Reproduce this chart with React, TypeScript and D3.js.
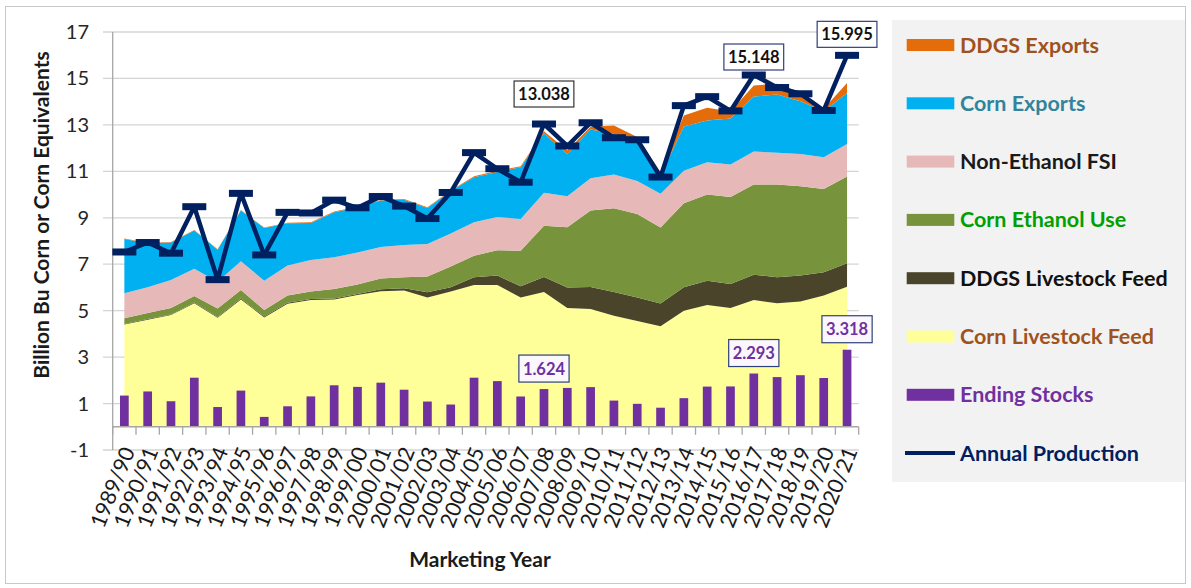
import React, { useEffect, useRef } from "react";
import * as d3 from "d3";

// marketing years on the x axis
const years = [
  "1989/90", "1990/91", "1991/92", "1992/93", "1993/94", "1994/95", "1995/96", "1996/97",
  "1997/98", "1998/99", "1999/00", "2000/01", "2001/02", "2002/03", "2003/04", "2004/05",
  "2005/06", "2006/07", "2007/08", "2008/09", "2009/10", "2010/11", "2011/12", "2012/13",
  "2013/14", "2014/15", "2015/16", "2016/17", "2017/18", "2018/19", "2019/20", "2020/21",
];

// stacked uses, billion bu (bottom to top)
const cornLivestockFeed = [4.40, 4.61, 4.81, 5.32, 4.70, 5.48, 4.71, 5.30, 5.46, 5.48, 5.67, 5.84, 5.87, 5.57, 5.83, 6.10, 6.10, 5.57, 5.80, 5.11, 5.07, 4.78, 4.55, 4.33, 5.00, 5.24, 5.12, 5.46, 5.32, 5.40, 5.65, 6.03];
const ddgsLivestockFeed = [0.03, 0.03, 0.03, 0.03, 0.03, 0.04, 0.04, 0.04, 0.04, 0.04, 0.05, 0.08, 0.09, 0.22, 0.18, 0.34, 0.41, 0.48, 0.65, 0.89, 0.95, 1.02, 1.02, 0.98, 1.01, 1.05, 1.03, 1.09, 1.12, 1.11, 1.00, 1.01];
const cornEthanolUse = [0.24, 0.26, 0.27, 0.28, 0.36, 0.37, 0.28, 0.31, 0.33, 0.41, 0.41, 0.47, 0.48, 0.68, 0.89, 0.93, 1.09, 1.53, 2.21, 2.59, 3.29, 3.61, 3.59, 3.27, 3.62, 3.71, 3.74, 3.88, 3.99, 3.85, 3.59, 3.74];
const nonEthanolFsi = [1.08, 1.11, 1.21, 1.17, 1.16, 1.24, 1.26, 1.29, 1.35, 1.37, 1.37, 1.35, 1.39, 1.40, 1.42, 1.44, 1.43, 1.37, 1.42, 1.34, 1.39, 1.45, 1.42, 1.45, 1.40, 1.39, 1.40, 1.42, 1.37, 1.39, 1.37, 1.40];
const cornExports = [2.34, 1.89, 1.62, 1.65, 1.37, 2.18, 2.27, 1.82, 1.60, 1.94, 1.95, 2.00, 1.95, 1.55, 1.83, 1.94, 1.94, 2.23, 2.55, 1.82, 2.10, 1.75, 1.78, 0.79, 1.90, 1.80, 1.99, 2.37, 2.51, 2.27, 1.98, 2.19];
const ddgsExports = [0.02, 0.02, 0.02, 0.02, 0.02, 0.02, 0.02, 0.03, 0.03, 0.03, 0.03, 0.03, 0.03, 0.03, 0.03, 0.04, 0.05, 0.04, 0.10, 0.15, 0.12, 0.36, 0.12, 0.14, 0.47, 0.55, 0.30, 0.48, 0.46, 0.39, 0.10, 0.43];

const endingStocks = [1.344, 1.521, 1.100, 2.113, 0.850, 1.558, 0.426, 0.883, 1.308, 1.787, 1.718, 1.899, 1.596, 1.087, 0.958, 2.114, 1.967, 1.304, 1.624, 1.673, 1.708, 1.128, 0.989, 0.821, 1.232, 1.731, 1.737, 2.293, 2.140, 2.221, 2.100, 3.318];
const annualProduction = [7.527, 7.934, 7.475, 9.477, 6.336, 10.051, 7.400, 9.233, 9.207, 9.759, 9.431, 9.915, 9.503, 8.967, 10.089, 11.806, 11.112, 10.531, 13.038, 12.092, 13.092, 12.447, 12.360, 10.755, 13.829, 14.216, 13.602, 15.148, 14.609, 14.340, 13.620, 15.995];

const yTicks = [-1, 1, 3, 5, 7, 9, 11, 13, 15, 17];

// which years get a value label
const productionLabelYears = ["2007/08", "2016/17", "2020/21"];
const stocksLabelYears = ["2007/08", "2016/17", "2020/21"];

const FONT = "Lato, 'Open Sans', sans-serif";

export default function App() {
  const ref = useRef<SVGSVGElement>(null);

  useEffect(() => {
    const svg = d3.select(ref.current);
    svg.selectAll("*").remove();

    const x = d3.scaleBand().domain(years).range([112.7, 858.7]);
    const y = d3.scaleLinear().domain([-1, 17]).range([450, 32]);
    const cx = (d: string) => (x(d) as number) + x.bandwidth() / 2;

    // frame
    svg.append("rect").attr("x", 5.5).attr("y", 6.5).attr("width", 1180).attr("height", 577)
      .attr("fill", "#fff").attr("stroke", "#c8c8c8");

    // gridlines
    svg.append("g").selectAll("line").data(yTicks).enter().append("line")
      .attr("x1", 103).attr("x2", 858.7)
      .attr("y1", d => y(d)).attr("y2", d => y(d))
      .attr("stroke", "#d4d4d4").attr("stroke-width", 1.3);

    const rows = years.map((yr, i) => ({
      year: yr,
      cornFeed: cornLivestockFeed[i],
      ddgsFeed: ddgsLivestockFeed[i],
      ethanol: cornEthanolUse[i],
      fsi: nonEthanolFsi[i],
      exports: cornExports[i],
      ddgsExp: ddgsExports[i],
    }));
    const keys = ["cornFeed", "ddgsFeed", "ethanol", "fsi", "exports", "ddgsExp"];
    const colors: Record<string, string> = {
      cornFeed: "#ffff99", ddgsFeed: "#4a452a", ethanol: "#77933c",
      fsi: "#e6b9b8", exports: "#00b0f0", ddgsExp: "#e46c0a",
    };
    const series = d3.stack<any>().keys(keys)(rows);
    const area = d3.area<any>()
      .x(d => cx(d.data.year))
      .y0(d => y(d[0]))
      .y1(d => y(d[1]));
    svg.append("g").selectAll("path").data(series).enter().append("path")
      .attr("d", d => area(d as any))
      .attr("fill", d => colors[d.key]);

    // ending stocks bars
    const barW = 8.7;
    svg.append("g").selectAll("rect").data(years).enter().append("rect")
      .attr("x", d => cx(d) - barW / 2)
      .attr("width", barW)
      .attr("y", (d, i) => y(endingStocks[i]))
      .attr("height", (d, i) => y(0) - y(endingStocks[i]))
      .attr("fill", "#7030a0");

    // axes
    svg.append("line").attr("x1", 112.7).attr("x2", 112.7).attr("y1", y(17)).attr("y2", y(-1))
      .attr("stroke", "#a6a6a6").attr("stroke-width", 1.3);
    svg.append("line").attr("x1", 112.7).attr("x2", 858.7).attr("y1", y(0)).attr("y2", y(0))
      .attr("stroke", "#a6a6a6").attr("stroke-width", 1.6);
    const tickXs = years.map(d => x(d) as number).concat([858.7]);
    svg.append("g").selectAll("line").data(tickXs).enter().append("line")
      .attr("x1", d => d).attr("x2", d => d)
      .attr("y1", y(0)).attr("y2", y(0) + 8)
      .attr("stroke", "#a6a6a6").attr("stroke-width", 1.3);

    svg.append("g").selectAll("text").data(yTicks).enter().append("text")
      .attr("x", 89).attr("y", d => y(d)).attr("dy", "0.35em")
      .attr("text-anchor", "end")
      .style("font-family", FONT).style("font-size", "20px").attr("fill", "#262626")
      .text(d => d);

    svg.append("g").selectAll("text").data(years).enter().append("text")
      .attr("transform", d => `translate(${cx(d) + 4},${448}) rotate(-68)`)
      .attr("dy", "0.35em")
      .attr("text-anchor", "end")
      .style("font-family", FONT).style("font-size", "21.5px").attr("fill", "#1a1a1a")
      .text(d => d);

    svg.append("text")
      .attr("transform", `translate(49,215) rotate(-90)`)
      .attr("text-anchor", "middle")
      .style("font-family", FONT).style("font-size", "21px").style("font-weight", "bold")
      .attr("fill", "#1a1a1a")
      .text("Billion Bu Corn or Corn Equivalents");

    svg.append("text")
      .attr("x", 480).attr("y", 567)
      .attr("text-anchor", "middle")
      .style("font-family", FONT).style("font-size", "21px").style("font-weight", "bold")
      .attr("fill", "#1a1a1a")
      .text("Marketing Year");

    // annual production line
    const line = d3.line<number>()
      .x((d, i) => cx(years[i]))
      .y(d => y(d));
    svg.append("path").attr("d", line(annualProduction) as string)
      .attr("fill", "none").attr("stroke", "#002060").attr("stroke-width", 4.5)
      .attr("stroke-linejoin", "round");
    svg.append("g").selectAll("rect").data(annualProduction).enter().append("rect")
      .attr("x", (d, i) => cx(years[i]) - 12).attr("width", 24)
      .attr("y", d => y(d) - 3.5).attr("height", 7)
      .attr("fill", "#002060");

    // value labels
    const fmt = d3.format(".3f");
    const prodGap = [17, 5, 8];
    productionLabelYears.forEach((yr, k) => {
      const i = years.indexOf(yr);
      const v = annualProduction[i];
      const bottom = y(v) - prodGap[k];
      const g = svg.append("g");
      const r = g.append("rect").attr("fill", "#fff").attr("stroke", k === 0 ? "#333" : "#2f3f7a").attr("stroke-width", 1.2);
      const t = g.append("text").attr("x", cx(yr)).attr("y", bottom - 13).attr("dy", "0.36em")
        .attr("text-anchor", "middle")
        .style("font-family", FONT).style("font-size", "16.5px").style("font-weight", "bold")
        .attr("fill", "#111").text(fmt(v));
      const w = (t.node() as SVGTextElement).getComputedTextLength() + 8;
      r.attr("x", cx(yr) - w / 2).attr("y", bottom - 26).attr("width", w).attr("height", 26);
    });
    stocksLabelYears.forEach(yr => {
      const i = years.indexOf(yr);
      const v = endingStocks[i];
      const bottom = y(v) - 7;
      const g = svg.append("g");
      const r = g.append("rect").attr("fill", "#fbf8fd").attr("stroke", "#2f3f7a").attr("stroke-width", 1.2);
      const t = g.append("text").attr("x", cx(yr)).attr("y", bottom - 13.5).attr("dy", "0.36em")
        .attr("text-anchor", "middle")
        .style("font-family", FONT).style("font-size", "16.5px").style("font-weight", "bold")
        .attr("fill", "#7030a0").text(fmt(v));
      const w = (t.node() as SVGTextElement).getComputedTextLength() + 8;
      r.attr("x", cx(yr) - w / 2).attr("y", bottom - 27).attr("width", w).attr("height", 27);
    });

    // legend
    const legendItems = [
      { name: "DDGS Exports", color: "#e46c0a", text: "#a0521e", line: false },
      { name: "Corn Exports", color: "#00b0f0", text: "#31849b", line: false },
      { name: "Non-Ethanol FSI", color: "#e6b9b8", text: "#1a1a1a", line: false },
      { name: "Corn Ethanol Use", color: "#77933c", text: "#00a000", line: false },
      { name: "DDGS Livestock Feed", color: "#4a452a", text: "#111", line: false },
      { name: "Corn Livestock Feed", color: "#ffff99", text: "#a0521e", line: false },
      { name: "Ending Stocks", color: "#7030a0", text: "#7030a0", line: false },
      { name: "Annual Production", color: "#002060", text: "#002060", line: true },
    ];
    svg.append("rect").attr("x", 892).attr("y", 20).attr("width", 293).attr("height", 462)
      .attr("fill", "#f2f2f2");
    const lg = svg.append("g").selectAll("g").data(legendItems).enter().append("g")
      .attr("transform", (d, i) => `translate(0,${45 + i * 58.3})`);
    lg.filter(d => !d.line).append("rect")
      .attr("x", 906.7).attr("y", -6).attr("width", 47.6).attr("height", 12)
      .attr("fill", d => d.color);
    lg.filter(d => d.line).append("line")
      .attr("x1", 905).attr("x2", 955).attr("y1", 0).attr("y2", 0)
      .attr("stroke", d => d.color).attr("stroke-width", 4);
    lg.append("text").attr("x", 960).attr("dy", "0.35em")
      .style("font-family", FONT).style("font-size", "21.5px").style("font-weight", "bold")
      .attr("fill", d => d.text).text(d => d.name);
  }, []);

  return (
    <svg ref={ref} width={1191} height={588}
      style={{ position: "absolute", left: 0, top: 0, background: "#fff" }} />
  );
}
